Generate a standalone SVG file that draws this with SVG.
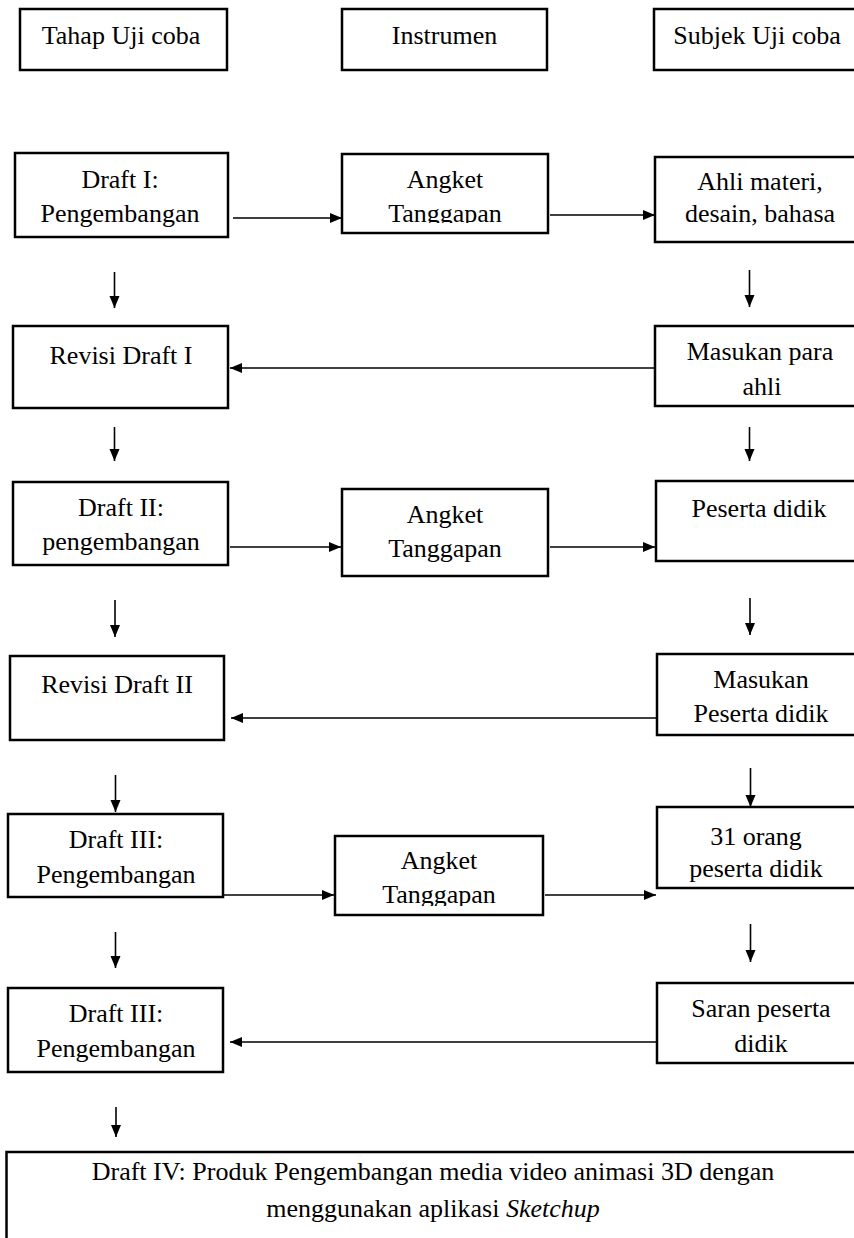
<svg xmlns="http://www.w3.org/2000/svg" width="854" height="1238" viewBox="0 0 854 1238">
<style>
.box{fill:#fff;stroke:#000;stroke-width:2.5}
.t{font-family:"Liberation Serif","Times New Roman",serif;font-size:26px;fill:#000;text-anchor:middle}
.c{stroke:#000;stroke-width:1.6;fill:none;marker-end:url(#ah)}
</style>
<defs>
<marker id="ah" viewBox="0 0 12 10" refX="12" refY="5" markerWidth="12" markerHeight="10.5" markerUnits="userSpaceOnUse" orient="auto">
<path d="M0,0 L12,5 L0,10 z" fill="#000"/>
</marker>
<clipPath id="clip1"><rect x="342" y="154" width="206" height="69"/></clipPath>
<clipPath id="clip5"><rect x="335" y="836" width="208" height="70"/></clipPath>
</defs>
<rect width="854" height="1238" fill="#fff"/>

<g id="h1"><rect class="box" x="20" y="9" width="207" height="61"/><text class="t" x="121" y="44">Tahap Uji coba</text></g>
<g id="h2"><rect class="box" x="342" y="9" width="205" height="61"/><text class="t" x="444.5" y="44">Instrumen</text></g>
<g id="h3"><rect class="box" x="654" y="9" width="207" height="61"/><text class="t" x="757" y="44">Subjek Uji coba</text></g>

<g id="n1"><rect class="box" x="15" y="153" width="213" height="84"/><text class="t" x="120" y="188">Draft I:</text><text class="t" x="120" y="222">Pengembangan</text></g>
<g id="n2"><rect class="box" x="342" y="154" width="206" height="79"/><g clip-path="url(#clip1)"><text class="t" x="445" y="188">Angket</text><text class="t" x="445" y="222">Tanggapan</text></g></g>
<g id="n3"><rect class="box" x="655" y="157" width="207" height="85"/><text class="t" x="760" y="190">Ahli materi,</text><text class="t" x="760" y="222">desain, bahasa</text></g>

<g id="n4"><rect class="box" x="13" y="326" width="215" height="82"/><text class="t" x="121" y="364">Revisi Draft I</text></g>
<g id="n5"><rect class="box" x="655" y="326" width="207" height="80"/><text class="t" x="760" y="360">Masukan para</text><text class="t" x="762" y="395">ahli</text></g>

<g id="n6"><rect class="box" x="13" y="482" width="215" height="83"/><text class="t" x="121" y="516">Draft II:</text><text class="t" x="121" y="550">pengembangan</text></g>
<g id="n7"><rect class="box" x="342" y="489" width="206" height="87"/><text class="t" x="445" y="523">Angket</text><text class="t" x="445" y="557">Tanggapan</text></g>
<g id="n8"><rect class="box" x="656" y="481" width="206" height="80"/><text class="t" x="759" y="517">Peserta didik</text></g>

<g id="n9"><rect class="box" x="10" y="656" width="214" height="84"/><text class="t" x="117" y="693">Revisi Draft II</text></g>
<g id="n10"><rect class="box" x="657" y="654" width="205" height="81"/><text class="t" x="761" y="688">Masukan</text><text class="t" x="761" y="722">Peserta didik</text></g>

<g id="n11"><rect class="box" x="8" y="814" width="215" height="83"/><text class="t" x="116" y="848">Draft III:</text><text class="t" x="116" y="883">Pengembangan</text></g>
<g id="n12"><rect class="box" x="335" y="836" width="208" height="79"/><g clip-path="url(#clip5)"><text class="t" x="439" y="869">Angket</text><text class="t" x="439" y="903">Tanggapan</text></g></g>
<g id="n13"><rect class="box" x="657" y="807" width="205" height="81"/><text class="t" x="756" y="845">31 orang</text><text class="t" x="756" y="877">peserta didik</text></g>

<g id="n14"><rect class="box" x="8" y="988" width="215" height="84"/><text class="t" x="116" y="1022">Draft III:</text><text class="t" x="116" y="1057">Pengembangan</text></g>
<g id="n15"><rect class="box" x="657" y="983" width="205" height="80"/><text class="t" x="761" y="1017">Saran peserta</text><text class="t" x="761" y="1052">didik</text></g>

<g id="n16"><rect class="box" x="6.5" y="1152" width="860" height="100"/><text class="t" x="433" y="1180">Draft IV: Produk Pengembangan media video animasi 3D dengan</text><text class="t" x="433" y="1217">menggunakan aplikasi <tspan font-style="italic">Sketchup</tspan></text></g>

<g id="connectors">
<line class="c" x1="233" y1="218" x2="342" y2="218"/>
<line class="c" x1="550" y1="215" x2="655" y2="215"/>
<line class="c" x1="114.5" y1="272" x2="114.5" y2="308"/>
<line class="c" x1="749.5" y1="270" x2="749.5" y2="307"/>
<line class="c" x1="655" y1="368" x2="230" y2="368"/>
<line class="c" x1="114.5" y1="427" x2="114.5" y2="461"/>
<line class="c" x1="749.5" y1="427" x2="749.5" y2="461"/>
<line class="c" x1="230" y1="547" x2="341" y2="547"/>
<line class="c" x1="550" y1="547" x2="655" y2="547"/>
<line class="c" x1="115" y1="600" x2="115" y2="637"/>
<line class="c" x1="750" y1="598" x2="750" y2="635"/>
<line class="c" x1="657" y1="718" x2="231" y2="718"/>
<line class="c" x1="115.5" y1="775" x2="115.5" y2="812"/>
<line class="c" x1="750.5" y1="768" x2="750.5" y2="807"/>
<line class="c" x1="224" y1="895" x2="334" y2="895"/>
<line class="c" x1="545" y1="895" x2="656" y2="895"/>
<line class="c" x1="115.5" y1="932" x2="115.5" y2="968"/>
<line class="c" x1="750.5" y1="924" x2="750.5" y2="962"/>
<line class="c" x1="657" y1="1042" x2="230" y2="1042"/>
<line class="c" x1="116" y1="1107" x2="116" y2="1137"/>
</g>
</svg>
